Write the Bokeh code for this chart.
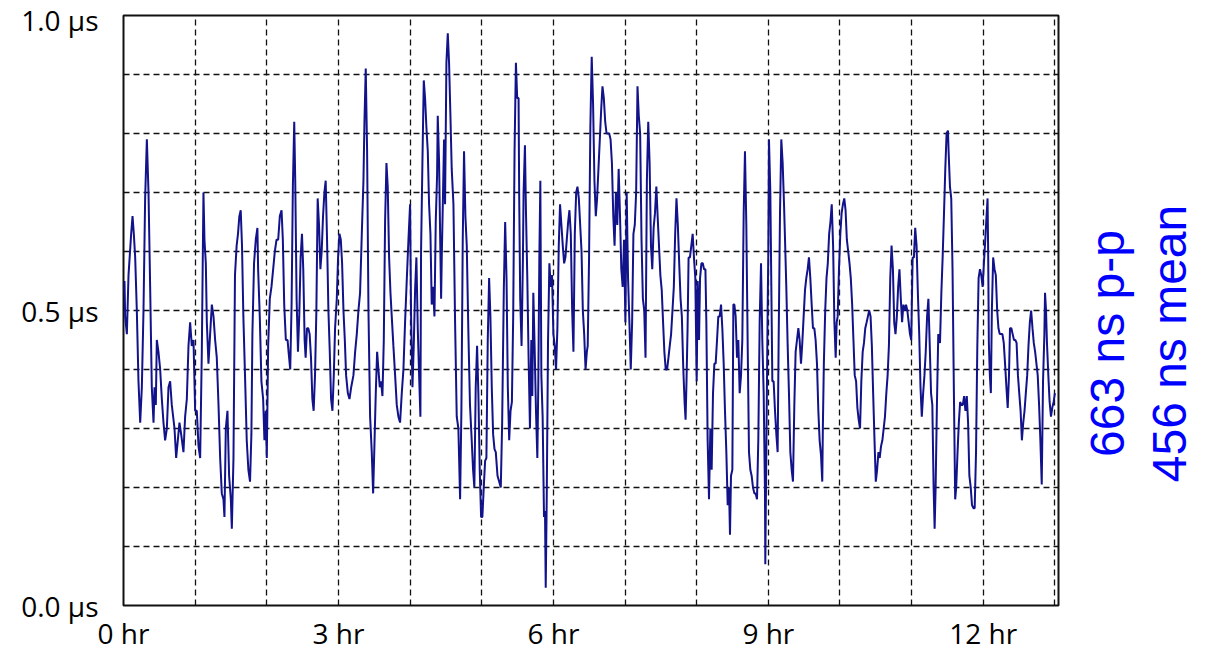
import numpy as np
from bokeh.plotting import figure
from bokeh.models import Range1d, FixedTicker, Label
from bokeh.layouts import row
from bokeh.embed import file_html
from bokeh.resources import INLINE

# ---- data: sample time (hours) and time error (microseconds) ----
hours_1 = [0.000, 0.014, 0.023, 0.047, 0.070, 0.107, 0.126, 0.144, 0.163, 0.186, 0.209, 0.233, 0.256, 0.279,
           0.302, 0.326, 0.349, 0.372, 0.395, 0.419, 0.433, 0.451, 0.465, 0.488, 0.512, 0.535, 0.558, 0.581,
           0.605, 0.628, 0.651, 0.674, 0.712, 0.735, 0.758, 0.781, 0.805, 0.837, 0.860, 0.884, 0.907, 0.930,
           0.953, 0.977, 1.000, 1.023, 1.047, 1.070, 1.093, 1.116, 1.130, 1.149, 1.163, 1.186, 1.209, 1.233,
           1.256, 1.279, 1.302, 1.326, 1.349, 1.372, 1.395, 1.409, 1.428, 1.451, 1.474, 1.498, 1.512, 1.535]
values_1 = [0.53, 0.55, 0.49, 0.46, 0.56, 0.63, 0.66, 0.63, 0.59, 0.50, 0.38, 0.31, 0.37, 0.50,
            0.69, 0.79, 0.70, 0.54, 0.37, 0.31, 0.37, 0.34, 0.45, 0.43, 0.40, 0.35, 0.31, 0.28,
            0.30, 0.37, 0.38, 0.34, 0.30, 0.25, 0.28, 0.31, 0.29, 0.26, 0.32, 0.35, 0.44, 0.48,
            0.44, 0.45, 0.33, 0.33, 0.27, 0.25, 0.43, 0.70, 0.62, 0.58, 0.48, 0.41, 0.46, 0.51,
            0.49, 0.45, 0.42, 0.34, 0.25, 0.19, 0.18, 0.15, 0.30, 0.33, 0.22, 0.18, 0.13, 0.25]

hours_2 = [1.556, 1.579, 1.598, 1.617, 1.636, 1.654, 1.673, 1.696, 1.720, 1.743, 1.766, 1.785, 1.799, 1.822,
           1.846, 1.869, 1.879, 1.902, 1.925, 1.949, 1.967, 1.986, 2.000, 2.019, 2.042, 2.065, 2.089, 2.112,
           2.136, 2.159, 2.182, 2.206, 2.224, 2.243, 2.266, 2.290, 2.304, 2.327, 2.346, 2.364, 2.383, 2.397,
           2.416, 2.435, 2.453, 2.472, 2.491, 2.509, 2.528, 2.542, 2.561, 2.579, 2.598, 2.617, 2.636, 2.654,
           2.673, 2.692, 2.710, 2.729, 2.748, 2.766, 2.785, 2.804, 2.822, 2.841, 2.860, 2.879, 2.897, 2.916,
           2.935, 2.953, 2.977, 2.995, 3.014, 3.033, 3.051, 3.070, 3.089, 3.107, 3.131, 3.154, 3.178]
values_2 = [0.56, 0.61, 0.63, 0.66, 0.67, 0.61, 0.49, 0.39, 0.28, 0.23, 0.21, 0.29, 0.46, 0.58,
            0.62, 0.64, 0.57, 0.49, 0.38, 0.35, 0.28, 0.33, 0.25, 0.44, 0.52, 0.54, 0.57, 0.60,
            0.62, 0.62, 0.66, 0.67, 0.62, 0.51, 0.45, 0.45, 0.43, 0.40, 0.51, 0.71, 0.82, 0.72,
            0.52, 0.43, 0.49, 0.59, 0.63, 0.57, 0.45, 0.42, 0.47, 0.47, 0.46, 0.42, 0.35, 0.33,
            0.39, 0.50, 0.69, 0.645, 0.57, 0.60, 0.66, 0.70, 0.72, 0.62, 0.50, 0.43, 0.35, 0.33,
            0.39, 0.47, 0.52, 0.59, 0.63, 0.62, 0.58, 0.50, 0.45, 0.39, 0.36, 0.35, 0.37]

hours_3 = [3.209, 3.233, 3.256, 3.279, 3.302, 3.326, 3.349, 3.363, 3.381, 3.400, 3.419, 3.442, 3.465, 3.484,
           3.502, 3.521, 3.540, 3.558, 3.577, 3.595, 3.614, 3.633, 3.651, 3.670, 3.688, 3.707, 3.726, 3.744,
           3.767, 3.791, 3.814, 3.837, 3.860, 3.884, 3.907, 3.930, 3.953, 3.977, 4.000, 4.014, 4.033, 4.051,
           4.070, 4.088, 4.107, 4.126, 4.144, 4.153, 4.172, 4.191, 4.209, 4.228, 4.247, 4.265, 4.284, 4.302,
           4.321, 4.340, 4.358, 4.377, 4.386, 4.405, 4.419, 4.433, 4.442, 4.460, 4.474, 4.488, 4.507, 4.526,
           4.544, 4.563, 4.581, 4.605, 4.628, 4.651, 4.674, 4.698, 4.716, 4.735, 4.753, 4.772, 4.791, 4.814]
values_3 = [0.39, 0.43, 0.46, 0.50, 0.53, 0.63, 0.72, 0.82, 0.91, 0.77, 0.50, 0.32, 0.26, 0.19,
            0.27, 0.36, 0.43, 0.40, 0.37, 0.38, 0.355, 0.45, 0.65, 0.75, 0.71, 0.59, 0.53, 0.49,
            0.44, 0.39, 0.34, 0.32, 0.31, 0.36, 0.40, 0.48, 0.55, 0.62, 0.68, 0.49, 0.37, 0.44,
            0.535, 0.59, 0.47, 0.39, 0.32, 0.60, 0.75, 0.89, 0.86, 0.81, 0.77, 0.68, 0.63, 0.51,
            0.54, 0.49, 0.65, 0.73, 0.83, 0.75, 0.63, 0.52, 0.59, 0.70, 0.79, 0.68, 0.92, 0.97,
            0.92, 0.83, 0.74, 0.68, 0.48, 0.32, 0.30, 0.18, 0.33, 0.62, 0.77, 0.66, 0.61, 0.46]

hours_4 = [4.836, 4.860, 4.879, 4.897, 4.916, 4.935, 4.953, 4.972, 4.991, 5.009, 5.028, 5.047, 5.065, 5.084,
           5.103, 5.121, 5.140, 5.159, 5.178, 5.196, 5.220, 5.243, 5.266, 5.285, 5.308, 5.327, 5.346, 5.364,
           5.383, 5.402, 5.421, 5.439, 5.458, 5.477, 5.495, 5.514, 5.523, 5.537, 5.556, 5.575, 5.584, 5.603,
           5.617, 5.636, 5.654, 5.673, 5.692, 5.706, 5.720, 5.738, 5.757, 5.776, 5.790, 5.804, 5.818, 5.832,
           5.850, 5.869, 5.883, 5.893, 5.907, 5.925, 5.944, 5.963, 5.981, 6.000, 6.019, 6.037, 6.056, 6.075,
           6.093, 6.112, 6.131, 6.150, 6.168, 6.187, 6.206, 6.224, 6.243, 6.262, 6.280, 6.299, 6.318, 6.336,
           6.355, 6.374, 6.393, 6.411, 6.430, 6.449, 6.467]
values_4 = [0.34, 0.28, 0.23, 0.20, 0.37, 0.44, 0.36, 0.23, 0.15, 0.15, 0.20, 0.245, 0.25, 0.45,
            0.555, 0.49, 0.37, 0.29, 0.265, 0.26, 0.22, 0.21, 0.20, 0.31, 0.535, 0.65, 0.555, 0.37,
            0.28, 0.33, 0.345, 0.49, 0.77, 0.92, 0.86, 0.86, 0.69, 0.52, 0.44, 0.59, 0.70, 0.78,
            0.67, 0.555, 0.42, 0.30, 0.45, 0.355, 0.53, 0.44, 0.33, 0.25, 0.38, 0.59, 0.72, 0.39,
            0.32, 0.15, 0.16, 0.03, 0.18, 0.445, 0.58, 0.54, 0.56, 0.46, 0.44, 0.40, 0.47, 0.61,
            0.68, 0.645, 0.61, 0.58, 0.59, 0.62, 0.65, 0.67, 0.63, 0.50, 0.43, 0.63, 0.70, 0.71,
            0.69, 0.645, 0.60, 0.50, 0.46, 0.40, 0.43]

hours_5 = [6.479, 6.498, 6.516, 6.535, 6.554, 6.573, 6.592, 6.610, 6.629, 6.648, 6.667, 6.685, 6.704, 6.723,
           6.742, 6.761, 6.779, 6.798, 6.817, 6.836, 6.854, 6.873, 6.892, 6.911, 6.930, 6.948, 6.967, 6.986,
           7.005, 7.023, 7.042, 7.061, 7.080, 7.099, 7.117, 7.136, 7.155, 7.174, 7.192, 7.211, 7.230, 7.249,
           7.268, 7.286, 7.305, 7.324, 7.343, 7.362, 7.380, 7.399, 7.418, 7.437, 7.455, 7.474, 7.493, 7.512,
           7.531, 7.549, 7.568, 7.587, 7.606, 7.624, 7.643, 7.662, 7.681, 7.700, 7.718, 7.737, 7.756, 7.775,
           7.793, 7.812, 7.831, 7.845, 7.859, 7.873, 7.887, 7.906, 7.925, 7.944, 7.962, 7.981, 8.000, 8.014,
           8.033, 8.047, 8.066, 8.085, 8.103, 8.122]
values_5 = [0.44, 0.59, 0.81, 0.93, 0.85, 0.72, 0.66, 0.69, 0.74, 0.79, 0.84, 0.88, 0.86, 0.82,
            0.80, 0.80, 0.80, 0.79, 0.75, 0.66, 0.61, 0.70, 0.645, 0.74, 0.66, 0.57, 0.54, 0.62,
            0.48, 0.70, 0.555, 0.48, 0.40, 0.48, 0.63, 0.645, 0.70, 0.88, 0.83, 0.80, 0.62, 0.52,
            0.50, 0.42, 0.72, 0.82, 0.75, 0.61, 0.57, 0.64, 0.665, 0.71, 0.66, 0.61, 0.56, 0.535,
            0.48, 0.43, 0.40, 0.40, 0.42, 0.44, 0.46, 0.50, 0.54, 0.63, 0.69, 0.645, 0.58, 0.52,
            0.49, 0.405, 0.345, 0.315, 0.385, 0.47, 0.59, 0.59, 0.61, 0.63, 0.59, 0.555, 0.38, 0.55,
            0.45, 0.555, 0.58, 0.58, 0.57, 0.57]

hours_6 = [8.135, 8.153, 8.172, 8.191, 8.209, 8.228, 8.247, 8.265, 8.284, 8.302, 8.321, 8.340, 8.358, 8.377,
           8.395, 8.414, 8.433, 8.451, 8.465, 8.479, 8.498, 8.512, 8.526, 8.544, 8.563, 8.581, 8.600, 8.619,
           8.637, 8.656, 8.674, 8.693, 8.712, 8.730, 8.749, 8.767, 8.786, 8.805, 8.823, 8.842, 8.860, 8.879,
           8.898, 8.916, 8.935, 8.953, 8.958, 8.972, 8.991, 9.000, 9.009, 9.028, 9.042, 9.056, 9.074, 9.093,
           9.112, 9.130, 9.144, 9.163, 9.181, 9.200, 9.219, 9.233, 9.251, 9.270, 9.288, 9.307, 9.326, 9.344,
           9.363, 9.381, 9.400, 9.419, 9.437, 9.456, 9.474, 9.493, 9.512, 9.530, 9.549, 9.567, 9.586, 9.605,
           9.623, 9.642, 9.660, 9.679, 9.698, 9.716, 9.735, 9.753]
values_6 = [0.48, 0.28, 0.18, 0.30, 0.23, 0.36, 0.41, 0.41, 0.45, 0.49, 0.49, 0.51, 0.47, 0.41,
            0.33, 0.26, 0.17, 0.20, 0.12, 0.22, 0.23, 0.51, 0.51, 0.49, 0.42, 0.45, 0.36, 0.39,
            0.45, 0.665, 0.77, 0.645, 0.44, 0.26, 0.23, 0.22, 0.20, 0.19, 0.19, 0.18, 0.28, 0.48,
            0.58, 0.45, 0.36, 0.195, 0.07, 0.26, 0.505, 0.60, 0.79, 0.70, 0.54, 0.38, 0.38, 0.33,
            0.29, 0.26, 0.45, 0.665, 0.79, 0.75, 0.68, 0.62, 0.54, 0.44, 0.36, 0.26, 0.23, 0.21,
            0.34, 0.43, 0.45, 0.47, 0.45, 0.41, 0.445, 0.49, 0.535, 0.555, 0.57, 0.59, 0.555, 0.51,
            0.47, 0.47, 0.45, 0.41, 0.33, 0.28, 0.255, 0.21]

hours_7 = [9.761, 9.775, 9.794, 9.812, 9.830, 9.849, 9.867, 9.885, 9.904, 9.922, 9.940, 9.954, 9.968, 9.986,
           10.005, 10.023, 10.041, 10.060, 10.078, 10.096, 10.115, 10.133, 10.151, 10.170, 10.188, 10.206,
           10.225, 10.243, 10.261, 10.280, 10.298, 10.317, 10.335, 10.353, 10.372, 10.390, 10.408, 10.427,
           10.445, 10.463, 10.482, 10.500, 10.518, 10.537, 10.555, 10.573, 10.592, 10.610, 10.628, 10.647,
           10.665, 10.683, 10.702, 10.720, 10.739, 10.757, 10.775, 10.794, 10.812, 10.830, 10.849, 10.867,
           10.885, 10.904, 10.922, 10.940, 10.959, 10.977, 10.995, 11.014, 11.032, 11.050, 11.069, 11.087,
           11.106, 11.124, 11.142, 11.161, 11.179, 11.197, 11.216, 11.234, 11.252, 11.271, 11.289, 11.307,
           11.321, 11.335, 11.353, 11.372]
values_7 = [0.30, 0.41, 0.50, 0.555, 0.58, 0.63, 0.65, 0.68, 0.61, 0.48, 0.42, 0.48, 0.49, 0.57,
            0.63, 0.665, 0.68, 0.69, 0.67, 0.62, 0.60, 0.58, 0.555, 0.51, 0.45, 0.39,
            0.38, 0.335, 0.315, 0.30, 0.38, 0.43, 0.445, 0.47, 0.48, 0.49, 0.50, 0.49,
            0.44, 0.36, 0.28, 0.21, 0.23, 0.26, 0.25, 0.27, 0.28, 0.30, 0.32, 0.36,
            0.39, 0.44, 0.555, 0.61, 0.57, 0.48, 0.46, 0.49, 0.54, 0.57, 0.52, 0.48,
            0.51, 0.50, 0.51, 0.50, 0.48, 0.46, 0.45, 0.59, 0.59, 0.64, 0.61, 0.53,
            0.46, 0.37, 0.32, 0.36, 0.39, 0.43, 0.49, 0.52, 0.445, 0.36, 0.34, 0.20,
            0.13, 0.20, 0.34, 0.46]

hours_8 = [11.396, 11.415, 11.433, 11.452, 11.470, 11.488, 11.507, 11.516, 11.535, 11.553, 11.571, 11.590,
           11.608, 11.622, 11.641, 11.659, 11.677, 11.696, 11.714, 11.733, 11.751, 11.770, 11.788, 11.806,
           11.825, 11.843, 11.862, 11.880, 11.899, 11.917, 11.935, 11.954, 11.972, 11.991, 12.009, 12.028,
           12.041, 12.060, 12.069, 12.078, 12.092, 12.106, 12.120, 12.138, 12.157, 12.175, 12.194, 12.212,
           12.230, 12.249, 12.267, 12.286, 12.304, 12.323, 12.341, 12.359, 12.373, 12.392, 12.410, 12.429,
           12.447, 12.465, 12.484, 12.502, 12.521, 12.539, 12.558, 12.576, 12.594, 12.613, 12.631, 12.650,
           12.668, 12.687, 12.705, 12.724, 12.742, 12.760, 12.779, 12.797, 12.816, 12.834, 12.853, 12.862,
           12.876, 12.889, 12.908, 12.926, 12.945, 12.963, 12.982, 13.000]
values_8 = [0.445, 0.53, 0.59, 0.665, 0.74, 0.80, 0.805, 0.77, 0.71, 0.69, 0.57, 0.36,
            0.18, 0.20, 0.26, 0.31, 0.345, 0.34, 0.34, 0.355, 0.33, 0.355, 0.31, 0.22,
            0.20, 0.17, 0.165, 0.165, 0.26, 0.44, 0.555, 0.57, 0.56, 0.54, 0.58, 0.62,
            0.65, 0.69, 0.59, 0.445, 0.39, 0.36, 0.50, 0.59, 0.57, 0.56, 0.50, 0.47,
            0.46, 0.46, 0.46, 0.445, 0.41, 0.37, 0.335, 0.39, 0.47, 0.47, 0.46, 0.45,
            0.45, 0.445, 0.39, 0.36, 0.33, 0.28, 0.31, 0.33, 0.36, 0.39, 0.44, 0.48,
            0.50, 0.47, 0.445, 0.43, 0.41, 0.39, 0.34, 0.28, 0.205, 0.38, 0.46, 0.53,
            0.50, 0.445, 0.39, 0.345, 0.32, 0.335, 0.345, 0.36]

x_ticks = [0, 3, 6, 9, 12]
x_tick_labels = ["0 hr", "3 hr", "6 hr", "9 hr", "12 hr"]
x_grid_hours = [1, 2, 3, 4, 5, 6, 7, 8, 9, 10, 11, 12, 13]
y_ticks = [0.0, 0.5, 1.0]
y_tick_labels = ["0.0 \u00b5s", "0.5 \u00b5s", "1.0 \u00b5s"]
y_grid_values = [0.1, 0.2, 0.3, 0.4, 0.5, 0.6, 0.7, 0.8, 0.9]
stats_labels = ["663 ns p-p", "456 ns mean"]

hours = np.concatenate([hours_1, hours_2, hours_3, hours_4, hours_5, hours_6, hours_7, hours_8])
values = np.concatenate([values_1, values_2, values_3, values_4, values_5, values_6, values_7, values_8])

BORDER_TOP, BORDER_BOTTOM = 15, 42

# ---- main chart ----
p = figure(frame_width=935, frame_height=590, output_backend="svg", toolbar_location=None,
           x_range=Range1d(0, 13.05), y_range=Range1d(0, 1.0),
           min_border_left=123, min_border_right=5,
           min_border_top=BORDER_TOP, min_border_bottom=BORDER_BOTTOM)
p.background_fill_color = "white"
p.border_fill_color = "white"
p.outline_line_color = "#111111"
p.outline_line_width = 2

p.line(hours, values, line_color="#12128a", line_width=2.0)

# grid
p.xgrid.ticker = FixedTicker(ticks=x_grid_hours)
p.ygrid.ticker = FixedTicker(ticks=y_grid_values)
for g in (p.xgrid, p.ygrid):
    g.grid_line_color = "#111111"
    g.grid_line_dash = "6 4"
    g.grid_line_width = 1.3

# axes
xa = p.xaxis[0]
xa.ticker = FixedTicker(ticks=x_ticks)
xa.major_label_overrides = {t: s for t, s in zip(x_ticks, x_tick_labels)}
xa.major_label_standoff = 2
xa.major_label_text_font_size = "28px"

ya = p.yaxis[0]
ya.ticker = FixedTicker(ticks=y_ticks)
ya.major_label_overrides = {t: s for t, s in zip(y_ticks, y_tick_labels)}
ya.major_label_standoff = 19
ya.major_label_text_font_size = "28px"

for ax in (xa, ya):
    ax.axis_line_color = None
    ax.major_tick_line_color = None
    ax.minor_tick_line_color = None
    ax.major_label_text_font = "Open Sans"
    ax.major_label_text_color = "black"

# ---- side panel with the statistics (vertical text) ----
# frame aligned with the main frame; y range in pixel rows from the top of the page
side = figure(frame_width=140, frame_height=590, output_backend="svg", toolbar_location=None,
              x_range=Range1d(0, 140), y_range=Range1d(605, 15),
              x_axis_location=None, y_axis_location=None,
              min_border_left=0, min_border_right=0,
              min_border_top=BORDER_TOP, min_border_bottom=BORDER_BOTTOM,
              outline_line_color=None)
side.grid.visible = False
side.background_fill_color = "white"
side.border_fill_color = "white"
stat_x = [44, 106]
for s, sx in zip(stats_labels, stat_x):
    side.add_layout(Label(x=sx, y=343, text=s, angle=np.pi / 2,
                          text_align="center", text_baseline="alphabetic",
                          text_font="Liberation Sans", text_font_size="48px", text_color="#0000ff"))

layout = row(p, side)
open("out.html", "w").write(file_html(layout, INLINE))
